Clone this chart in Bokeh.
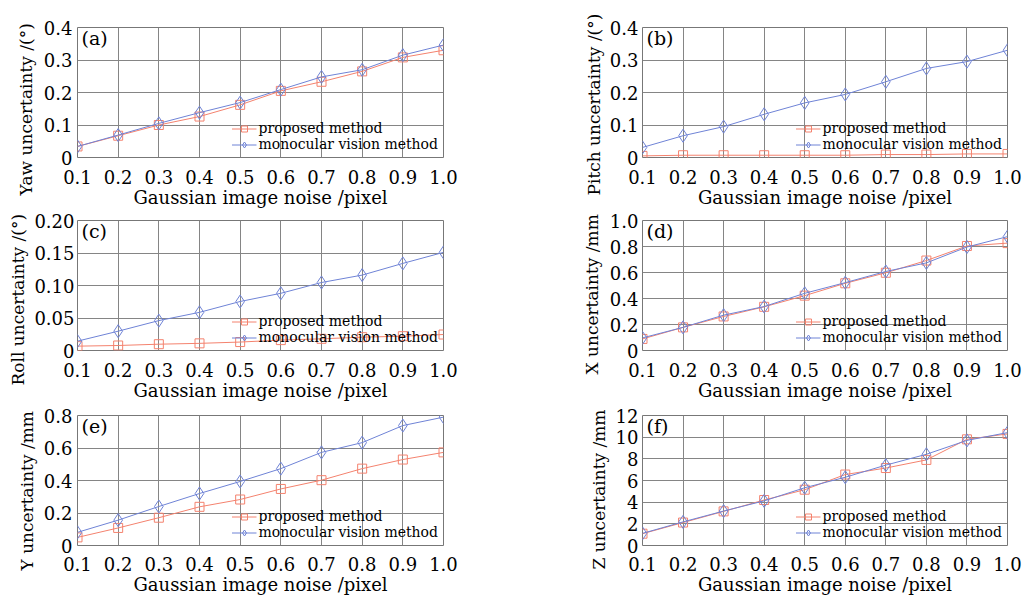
from bokeh.plotting import figure
from bokeh.models import FixedTicker, Range1d, Legend, LegendItem, Label, Title
from bokeh.layouts import column, row
from bokeh.embed import file_html
from bokeh.resources import INLINE

# ---------------- data ----------------
x_noise = [0.1, 0.2, 0.3, 0.4, 0.5, 0.6, 0.7, 0.8, 0.9, 1.0]
x_tick_labels = ["0.1", "0.2", "0.3", "0.4", "0.5", "0.6", "0.7", "0.8", "0.9", "1.0"]

yaw_proposed = [0.034, 0.067, 0.100, 0.126, 0.162, 0.205, 0.233, 0.265, 0.308, 0.330]
yaw_monocular = [0.034, 0.069, 0.105, 0.138, 0.169, 0.209, 0.248, 0.270, 0.315, 0.346]
yaw_ticks = [0, 0.1, 0.2, 0.3, 0.4]
yaw_tick_labels = ["0", "0.1", "0.2", "0.3", "0.4"]

pitch_proposed = [0.005, 0.007, 0.007, 0.007, 0.007, 0.007, 0.009, 0.009, 0.011, 0.011]
pitch_monocular = [0.031, 0.067, 0.095, 0.133, 0.168, 0.194, 0.233, 0.274, 0.295, 0.330]
pitch_ticks = [0, 0.1, 0.2, 0.3, 0.4]
pitch_tick_labels = ["0", "0.1", "0.2", "0.3", "0.4"]

roll_proposed = [0.0067, 0.0077, 0.0097, 0.011, 0.013, 0.016, 0.018, 0.0205, 0.022, 0.0246]
roll_monocular = [0.0144, 0.0297, 0.046, 0.0587, 0.0754, 0.088, 0.1046, 0.116, 0.134, 0.151]
roll_ticks = [0, 0.05, 0.1, 0.15, 0.2]
roll_tick_labels = ["0", "0.05", "0.10", "0.15", "0.20"]

x_proposed = [0.089, 0.178, 0.262, 0.336, 0.422, 0.517, 0.598, 0.692, 0.804, 0.826]
x_monocular = [0.097, 0.178, 0.272, 0.338, 0.440, 0.522, 0.608, 0.674, 0.796, 0.876]
x_ticks = [0, 0.2, 0.4, 0.6, 0.8, 1.0]
x_tick_labels_y = ["0", "0.2", "0.4", "0.6", "0.8", "1.0"]

y_proposed = [0.050, 0.108, 0.171, 0.238, 0.283, 0.348, 0.402, 0.473, 0.529, 0.573]
y_monocular = [0.081, 0.156, 0.240, 0.320, 0.394, 0.473, 0.573, 0.633, 0.738, 0.790]
y_ticks = [0, 0.2, 0.4, 0.6, 0.8]
y_tick_labels_y = ["0", "0.2", "0.4", "0.6", "0.8"]

z_proposed = [1.09, 2.12, 3.15, 4.20, 5.15, 6.55, 7.15, 7.90, 9.80, 10.30]
z_monocular = [1.12, 2.18, 3.18, 4.12, 5.33, 6.30, 7.42, 8.42, 9.70, 10.42]
z_ticks = [0, 2, 4, 6, 8, 10, 12]
z_tick_labels = ["0", "2", "4", "6", "8", "10", "12"]

series_names = ["proposed method", "monocular vision method"]
panel_tags = ["(a)", "(b)", "(c)", "(d)", "(e)", "(f)"]
y_titles = ["Yaw uncertainty /(°)", "Pitch uncertainty /(°)", "Roll uncertainty /(°)",
            "X uncertainty /mm", "Y uncertainty /mm", "Z uncertainty /mm"]
x_title = "Gaussian image noise /pixel"

# ---------------- style ----------------
FONT = "DejaVu Serif"
RED = "#F4826E"
BLUE = "#6F83D6"
GRID = "#858585"
YT_SIZE = "17px"  # y title font


def make_panel(i, yp, ym, yticks, ylabels, width, height,
               b_left, b_right, b_top, b_bottom, tick_standoff, x_standoff,
               title_standoff, title_offset):
    p = figure(width=width, height=height, output_backend="svg", toolbar_location=None,
               x_range=Range1d(x_noise[0], x_noise[-1]),
               y_range=Range1d(yticks[0], yticks[-1]),
               min_border_left=b_left, min_border_right=b_right,
               min_border_top=b_top, min_border_bottom=b_bottom)
    p.background_fill_color = "white"
    p.border_fill_color = "white"
    p.outline_line_color = "#777777"
    p.outline_line_width = 1

    p.xaxis.ticker = FixedTicker(ticks=x_noise)
    p.xaxis.major_label_overrides = dict(zip(x_noise, x_tick_labels))
    p.yaxis.ticker = FixedTicker(ticks=yticks)
    p.yaxis.major_label_overrides = dict(zip(yticks, ylabels))

    for ax in (p.xaxis[0], p.yaxis[0]):
        ax.axis_line_color = None
        ax.major_tick_line_color = None
        ax.minor_tick_line_color = None
        ax.major_tick_out = 0
        ax.major_tick_in = 0
        ax.major_label_text_font = FONT
        ax.major_label_text_font_size = "18px"
        ax.major_label_text_color = "black"
        ax.axis_label_text_font = FONT
        ax.axis_label_text_font_size = "18px"
        ax.axis_label_text_font_style = "normal"
        ax.axis_label_text_color = "black"

    p.xaxis.axis_label = x_title
    p.xaxis.major_label_standoff = x_standoff
    p.xaxis.axis_label_standoff = 0
    p.yaxis.major_label_standoff = tick_standoff

    p.xgrid.ticker = FixedTicker(ticks=x_noise)
    p.ygrid.ticker = FixedTicker(ticks=yticks)
    for g in (p.xgrid[0], p.ygrid[0]):
        g.grid_line_color = GRID
        g.grid_line_width = 1

    l1 = p.line(x_noise, yp, line_color=RED, line_width=1)
    s1 = p.scatter(x_noise, yp, marker="square", size=9, line_color=RED,
                   fill_alpha=0, line_width=1)
    l2 = p.line(x_noise, ym, line_color=BLUE, line_width=1)
    s2 = p.scatter(x_noise, ym, marker="diamond", size=13, line_color=BLUE,
                   fill_alpha=0, line_width=1)

    legend = Legend(items=[LegendItem(label=series_names[0], renderers=[l1, s1]),
                           LegendItem(label=series_names[1], renderers=[l2, s2])],
                    location="bottom_right")
    legend.label_text_font = FONT
    legend.label_text_font_size = "14px"
    legend.label_text_color = "black"
    legend.border_line_alpha = 0
    legend.background_fill_alpha = 0
    legend.glyph_width = 25
    legend.glyph_height = 15
    legend.label_height = 15
    legend.label_standoff = 2
    legend.spacing = 0
    legend.padding = 2
    legend.margin = 3
    p.add_layout(legend)

    p.add_layout(Label(x=x_noise[0], y=yticks[-1], x_offset=4, y_offset=1,
                       text=panel_tags[i], text_baseline="top", text_font=FONT,
                       text_font_size="19px", text_color="black"))

    t = Title(text=y_titles[i], align="left", offset=title_offset,
              standoff=title_standoff, text_font=FONT, text_font_size=YT_SIZE,
              text_font_style="normal", text_color="black")
    p.add_layout(t, "left")
    return p


LW, RW = 560, 466
H1, H2, H3 = 210, 193, 194
pa = make_panel(0, yaw_proposed, yaw_monocular, yaw_ticks, yaw_tick_labels,
                LW, H1, 77, 117, 27, 53, 5, 12, 9, -38)
pb = make_panel(1, pitch_proposed, pitch_monocular, pitch_ticks, pitch_tick_labels,
                RW, H1, 82, 19, 27, 53, 4, 12, 5, -38)
pc = make_panel(2, roll_proposed, roll_monocular, roll_ticks, roll_tick_labels,
                LW, H2, 77, 117, 10, 53, 3, 12, 8, -35)
pd = make_panel(3, x_proposed, x_monocular, x_ticks, x_tick_labels_y,
                RW, H2, 82, 19, 10, 52, 4, 12, 10, -24)
pe = make_panel(4, y_proposed, y_monocular, y_ticks, y_tick_labels_y,
                LW, H3, 77, 117, 12, 52, 5, 11, 7, -25)
pf = make_panel(5, z_proposed, z_monocular, z_ticks, z_tick_labels,
                RW, H3, 82, 19, 7, 51, 4, 11, 8, -24)

layout = column(row(pa, pb), row(pc, pd), row(pe, pf))

open("out.html", "w").write(file_html(layout, INLINE))
